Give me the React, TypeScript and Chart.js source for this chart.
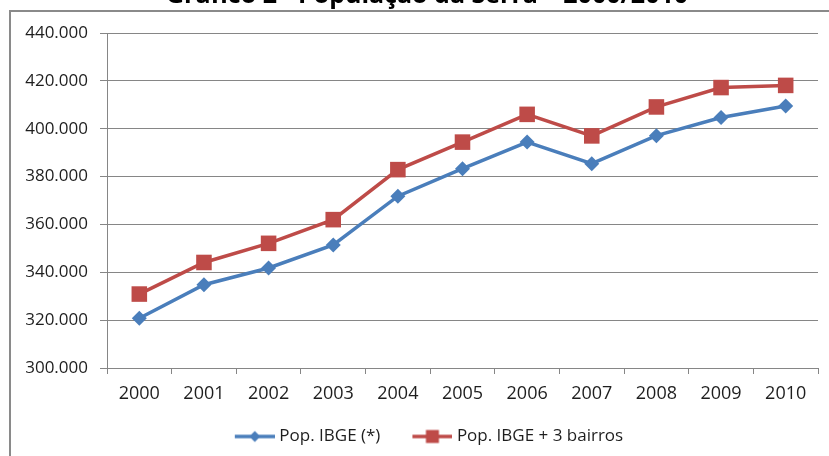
import React, { useEffect, useRef } from 'react';
import { Chart, registerables } from 'chart.js';

Chart.register(...registerables);

const years = ['2000', '2001', '2002', '2003', '2004', '2005', '2006', '2007', '2008', '2009', '2010'];
const popIBGE = [320800, 334800, 341800, 351400, 371800, 383300, 394400, 385400, 397100, 404700, 409500];
const popIBGE3Bairros = [330900, 344100, 352100, 362000, 382900, 394400, 406000, 397000, 409100, 417200, 418100];
const seriesNames = ['Pop. IBGE (*)', 'Pop. IBGE + 3 bairros'];
const titleText = 'Gráfico 2 - População da Serra – 2000/2010';
const yMin = 300000;
const yMax = 440000;
const yStep = 20000;

const BLUE = '#4A7EBB';
const RED = '#BE4B48';
const GRID = '#868686';
const TEXT = '#1e1e1e';
const FONT = '"Open Sans", "DejaVu Sans", sans-serif';

function formatPt(v: number): string {
  const s = Math.round(v).toString();
  return s.replace(/\B(?=(\d{3})+(?!\d))/g, '.');
}

// legend icon: line with a marker, right-aligned inside a wider canvas
function makeLegendIcon(color: string, kind: 'diamond' | 'square'): HTMLCanvasElement {
  const c = document.createElement('canvas');
  c.width = 56;
  c.height = 16;
  const ctx = c.getContext('2d')!;
  ctx.strokeStyle = color;
  ctx.lineWidth = 3.5;
  ctx.beginPath();
  ctx.moveTo(16, 8);
  ctx.lineTo(56, 8);
  ctx.stroke();
  ctx.fillStyle = color;
  const cx = 36;
  if (kind === 'diamond') {
    ctx.beginPath();
    ctx.moveTo(cx, 2.5);
    ctx.lineTo(cx + 5.5, 8);
    ctx.lineTo(cx, 13.5);
    ctx.lineTo(cx - 5.5, 8);
    ctx.closePath();
    ctx.fill();
  } else {
    ctx.fillRect(cx - 6.5, 1.5, 13, 13);
  }
  return c;
}

const framePlugin = {
  id: 'frameAndTitle',
  afterLayout(chart: any) {
    const l = chart.legend;
    if (l) {
      l.left += 7.5;
      l.right += 7.5;
    }
  },
  beforeDraw(chart: any) {
    const ctx = chart.ctx as CanvasRenderingContext2D;
    ctx.save();
    ctx.strokeStyle = '#8a8a8a';
    ctx.lineWidth = 2;
    ctx.beginPath();
    ctx.moveTo(10, 460);
    ctx.lineTo(10, 11);
    ctx.lineTo(835, 11);
    ctx.stroke();
    ctx.fillStyle = '#000';
    ctx.font = 'bold 25px ' + FONT;
    ctx.textAlign = 'center';
    ctx.textBaseline = 'alphabetic';
    ctx.fillText(titleText, 427, 3);
    ctx.restore();
  },
};

export default function App() {
  const ref = useRef<HTMLCanvasElement | null>(null);

  useEffect(() => {
    if (!ref.current) return;
    const icons = [makeLegendIcon(BLUE, 'diamond'), makeLegendIcon(RED, 'square')];
    const chart = new Chart(ref.current, {
      type: 'line',
      data: {
        labels: years,
        datasets: [
          {
            label: seriesNames[0],
            data: popIBGE,
            borderColor: BLUE,
            backgroundColor: BLUE,
            borderWidth: 3.5,
            pointStyle: 'rectRot',
            pointRadius: 7.5,
            pointBorderWidth: 0,
            pointBackgroundColor: BLUE,
            tension: 0,
          },
          {
            label: seriesNames[1],
            data: popIBGE3Bairros,
            borderColor: RED,
            backgroundColor: RED,
            borderWidth: 3.5,
            pointStyle: 'rect',
            pointRadius: 11,
            pointBorderWidth: 0,
            pointBackgroundColor: RED,
            tension: 0,
          },
        ],
      },
      options: {
        animation: false,
        responsive: false,
        devicePixelRatio: 1,
        layout: { padding: { left: 10, right: 8, top: 33, bottom: 1 } },
        plugins: {
          title: { display: false },
          tooltip: { enabled: false },
          legend: {
            display: true,
            position: 'bottom',
            labels: {
              usePointStyle: true,
              pointStyleWidth: 48,
              padding: 20,
              color: TEXT,
              font: { family: FONT, size: 17 },
              generateLabels: () =>
                seriesNames.map((name, i) => ({
                  text: name,
                  pointStyle: icons[i] as any,
                  datasetIndex: i,
                  hidden: false,
                  fillStyle: 'transparent',
                  strokeStyle: 'transparent',
                  lineWidth: 0,
                  fontColor: TEXT,
                })),
            },
          },
        },
        scales: {
          x: {
            type: 'category',
            offset: true,
            grid: {
              offset: true,
              drawOnChartArea: false,
              drawTicks: true,
              tickLength: 6,
              color: GRID,
            },
            border: { color: GRID, width: 1 },
            ticks: {
              color: TEXT,
              font: { family: FONT, size: 18 },
              padding: 9,
              maxRotation: 0,
              autoSkip: false,
            },
            afterFit: (s: any) => {
              s.height = 40;
            },
          },
          y: {
            min: yMin,
            max: yMax,
            grid: {
              color: GRID,
              drawTicks: true,
              tickLength: 7,
            },
            border: { color: GRID, width: 1 },
            ticks: {
              stepSize: yStep,
              color: TEXT,
              font: { family: FONT, size: 17 },
              padding: 12,
              callback: (v: any) => formatPt(Number(v)),
            },
            afterFit: (s: any) => {
              s.width = 97;
            },
          },
        },
      },
      plugins: [framePlugin],
    });
    return () => chart.destroy();
  }, []);

  return (
    <div style={{ position: 'fixed', left: 0, top: 0, width: 829, height: 456, background: '#fff' }}>
      <canvas ref={ref} width={829} height={456} style={{ display: 'block', width: 829, height: 456 }} />
    </div>
  );
}
